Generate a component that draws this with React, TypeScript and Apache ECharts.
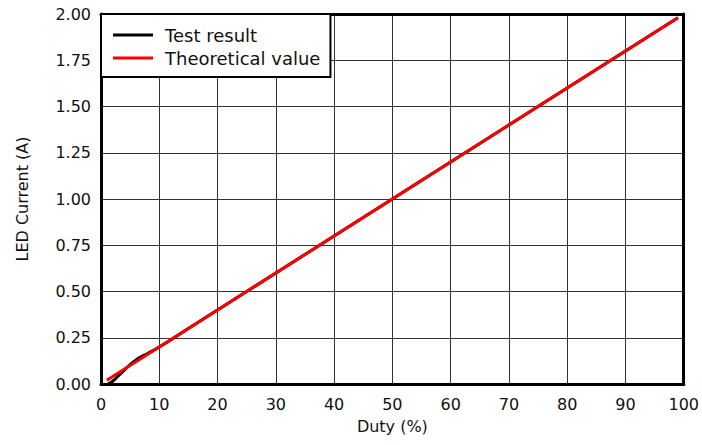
import React, { useEffect, useRef } from "react";
import * as echarts from "echarts";

const testDuty = [1.2, 2, 3, 4, 5, 6, 7, 8, 10, 15, 20, 30, 40, 50, 60, 70, 80, 90, 99];
const testCurrent = [0.0, 0.015, 0.045, 0.075, 0.105, 0.13, 0.15, 0.165, 0.2, 0.3, 0.4, 0.6, 0.8, 1.0, 1.2, 1.4, 1.6, 1.8, 1.98];
const theoDuty = [1, 99];
const theoCurrent = [0.02, 1.98];
const xTicks = [0, 10, 20, 30, 40, 50, 60, 70, 80, 90, 100];

export default function App() {
  const ref = useRef<HTMLDivElement>(null);
  useEffect(() => {
    if (!ref.current) return;
    const chart = echarts.init(ref.current, null, { renderer: "svg" });
    const font = "DejaVu Sans, sans-serif";
    const frame = { show: true, onZero: false, lineStyle: { color: "#000", width: 3 } };
    chart.setOption({
      animation: false,
      backgroundColor: "#fff",
      textStyle: { fontFamily: font },
      grid: { left: 101, right: 17, top: 14, bottom: 61 },
      legend: {
        left: 101, top: 14, orient: "vertical",
        backgroundColor: "#fff", borderColor: "#000", borderWidth: 2,
        padding: [12, 10, 10, 12], itemGap: 5, itemWidth: 40, itemHeight: 3,
        icon: "rect",
        textStyle: { fontSize: 18, color: "#111", fontFamily: font, padding: [0, 0, 0, 7] },
        data: ["Test result", "Theoretical value"],
      },
      xAxis: [
        {
          type: "value", min: xTicks[0], max: xTicks[xTicks.length - 1], interval: 10,
          name: "Duty (%)", nameLocation: "middle", nameGap: 34,
          nameTextStyle: { fontSize: 16, color: "#111", fontFamily: font },
          axisLine: frame, axisTick: { show: false },
          axisLabel: { fontSize: 16, color: "#111", margin: 12, fontFamily: font },
          splitLine: { show: true, lineStyle: { color: "#333", width: 1 } },
        },
        {
          type: "value", position: "top", min: 0, max: 100, interval: 10,
          axisLine: frame, axisTick: { show: false }, axisLabel: { show: false },
          splitLine: { show: false },
        },
      ],
      yAxis: [
        {
          type: "value", min: 0, max: 2, interval: 0.25,
          name: "LED Current (A)", nameLocation: "middle", nameGap: 71, nameRotate: 90,
          nameTextStyle: { fontSize: 16, color: "#111", fontFamily: font },
          axisLine: frame, axisTick: { show: false },
          axisLabel: { fontSize: 16, color: "#111", margin: 10, fontFamily: font, formatter: (v: number) => v.toFixed(2) },
          splitLine: { show: true, lineStyle: { color: "#333", width: 1 } },
        },
        {
          type: "value", position: "right", min: 0, max: 2, interval: 0.25,
          axisLine: frame, axisTick: { show: false }, axisLabel: { show: false },
          splitLine: { show: false },
        },
      ],
      series: [
        {
          name: "Test result", type: "line", symbol: "none", smooth: true,
          lineStyle: { color: "#000", width: 3 }, itemStyle: { color: "#000" },
          data: testDuty.map((d, i) => [d, testCurrent[i]]),
        },
        {
          name: "Theoretical value", type: "line", symbol: "none",
          lineStyle: { color: "#ff0000", width: 3 }, itemStyle: { color: "#ff0000" },
          data: theoDuty.map((d, i) => [d, theoCurrent[i]]),
        },
      ],
    });
    return () => chart.dispose();
  }, []);
  return <div ref={ref} style={{ position: "fixed", left: 0, top: 0, width: 702, height: 445 }} />;
}
